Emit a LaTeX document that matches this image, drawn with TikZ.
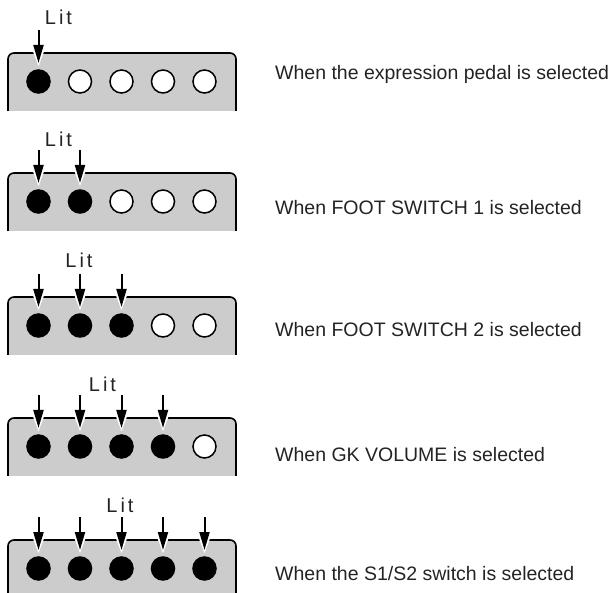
\documentclass[tikz,border=0pt]{standalone}
\usepackage{fontspec}
\setmainfont{Liberation Sans}
\usetikzlibrary{arrows.meta}
\definecolor{panelgray}{RGB}{204,204,204}
\definecolor{txt}{RGB}{35,35,35}
\newcommand{\litword}{L\kern3pt i\kern3pt t}
\begin{document}
\begin{tikzpicture}[x=1pt,y=-1pt,
  panel/.style={fill=panelgray, draw=black, line width=1.6pt, rounded corners=6pt},
  led/.style={circle, draw=black, line width=1.5pt, minimum size=23pt, inner sep=0pt, fill=white},
  ledon/.style={led, fill=black},
  litlabel/.style={font=\fontsize{20}{20}\selectfont, text=txt, anchor=base, inner sep=0pt},
  caption/.style={font=\fontsize{19.5}{20}\selectfont, text=txt, anchor=base west, inner sep=0pt},
  pointer/.style={line width=2pt, -{Triangle[length=18pt,width=10pt]}, shorten >=6.25pt,
    preaction={draw=white, line width=3.5pt, -{Triangle[length=23pt,width=16pt]}, shorten >=2.75pt}}]
\useasboundingbox (0,0) rectangle (608,593);
\foreach \i/\t/\lx/\ly/\by/\n/\cap in {
  1/53/58.5/25/80/1/{When the expression pedal is selected},
  2/173/58.5/147/215/2/{When FOOT SWITCH 1 is selected},
  3/297/79/268/337/3/{When FOOT SWITCH 2 is selected},
  4/418/102.5/392/462/4/{When GK VOLUME is selected},
  5/540/120/512/580/5/{When the S1/S2 switch is selected}}
{
  \path[panel] (8,\t+58) -- (8,\t) -- (236,\t) -- (236,\t+58);
  \foreach \j in {1,...,5} {
    \pgfmathsetmacro\cx{38.5+41.5*(\j-1)}
    \ifnum\j>\n\relax
      \node[led] (L\i\j) at (\cx,\t+28.5) {};
    \else
      \node[ledon] (L\i\j) at (\cx,\t+28.5) {};
      \coordinate (A\i\j) at (\cx,\t-23);
      \draw[pointer] (A\i\j) -- (L\i\j.north);
    \fi
  }
  \node[litlabel] (lit\i) at (\lx,\ly) {\litword};
  \node[caption] (cap\i) at (275,\by) {\cap};
}
\end{tikzpicture}
\end{document}
